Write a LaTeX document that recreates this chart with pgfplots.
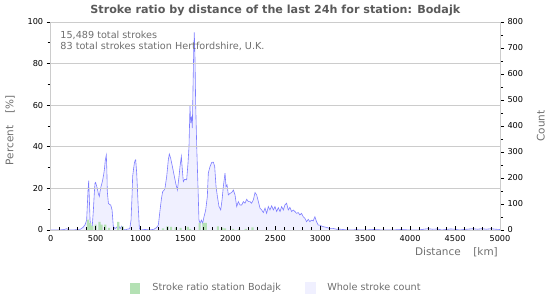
\documentclass[border=0pt]{standalone}
\usepackage{fontspec}
\setmainfont{DejaVu Sans}
\usepackage{pgfplots}
\usepackage{pgfplotstable}
\pgfplotsset{compat=1.18}
\definecolor{gridgray}{RGB}{204,204,204}
\definecolor{txtgray}{RGB}{110,110,110}
\definecolor{titlegray}{RGB}{90,90,90}
\definecolor{barGreen}{RGB}{180,225,180}
\definecolor{areaBlue}{RGB}{240,240,255}
\definecolor{lineBlue}{RGB}{125,125,255}

\pgfplotstableread{
km cnt
0 0
50 0
100 0
150 2
180 5
200 0
250 0
300 2
330 3
360 10
382 20
400 38
415 150
423 190
430 120
438 38
450 5
460 2
475 77
485 140
493 180
500 183
510 170
519 160
530 140
541 129
550 150
560 167
570 180
579 193
590 215
597 231
608 270
619 288
625 230
630 148
642 103
655 98
668 96
683 77
697 13
716 6
734 10
753 19
772 5
790 15
809 3
827 0
850 3
880 5
894 38
905 130
912 206
922 235
931 257
940 268
946 270
957 219
965 160
972 103
987 6
1000 0
1050 2
1100 0
1150 3
1180 10
1198 19
1217 77
1232 120
1246 148
1260 152
1272 161
1291 206
1309 270
1320 292
1335 276
1358 238
1376 206
1395 174
1410 154
1428 206
1439 244
1454 283
1465 231
1476 186
1491 195
1513 193
1528 257
1539 321
1550 476
1558 411
1569 437
1576 392
1584 553
1591 681
1598 760
1606 656
1613 489
1625 321
1639 167
1650 38
1662 26
1677 38
1691 26
1706 51
1725 77
1743 129
1754 219
1773 244
1792 260
1810 261
1825 244
1840 167
1855 129
1873 90
1892 77
1907 116
1921 167
1940 219
1951 167
1962 174
1977 135
1996 141
2014 144
2033 154
2051 135
2070 90
2088 109
2107 96
2125 96
2144 109
2162 103
2181 118
2200 109
2218 109
2236 103
2255 116
2274 144
2292 135
2311 109
2329 84
2348 77
2366 67
2385 84
2403 64
2422 90
2440 77
2459 93
2478 77
2496 90
2515 71
2533 86
2552 71
2570 90
2589 77
2606 96
2625 103
2644 77
2662 87
2681 71
2699 77
2718 71
2736 64
2755 67
2773 58
2792 64
2810 51
2829 45
2847 32
2866 41
2884 32
2903 38
2921 35
2940 51
2958 32
2977 19
2995 19
3014 15
3032 13
3069 10
3106 6
3143 6
3180 3
3220 3
3250 2
3300 0
3400 1
3500 0
3600 2
3700 0
3800 0
3900 2
4000 0
4100 0
4150 3
4200 5
4250 3
4300 4
4350 0
4400 2
4450 4
4500 3
4550 0
4600 2
4700 5
4750 3
4800 5
4850 3
4900 5
4950 3
5000 2
}\countdata

\pgfplotstableread{
km pct
415 5.0
440 3.4
462 2.0
500 2.6
543 3.9
567 2.6
607 2.6
650 1.0
752 3.9
799 1.8
1250 0.8
1300 1.8
1340 1.5
1392 1.3
1446 1.0
1525 1.5
1550 0.6
1657 3.4
1700 3.4
1725 3.4
1860 1.8
1910 1.2
1940 0.8
2030 0.6
2095 0.5
2170 0.6
2245 1.3
}\pctdata

\begin{document}
\begin{tikzpicture}
\path[use as bounding box] (-50.7bp,-70bp) rectangle (499.3bp,230bp);
\pgfplotsset{every axis/.append style={
  scale only axis, width=449.3bp, height=208bp,
  at={(0,0)}, anchor=south west,
  xmin=0, xmax=5000,
  tick label style={font=\fontsize{8.2}{9}\selectfont, black},
  /pgf/number format/assume math mode=true,
  /pgf/number format/1000 sep={},
  tick style={black, line width=0.8bp},
  major tick length=4bp, minor tick length=3bp,
}}
% count axis (right)
\begin{axis}[
  ymin=0, ymax=800,
  axis y line*=right, hide x axis,
  ytick={0,100,...,800}, minor y tick num=1,
  tick align=outside,
  y axis line style={draw=none},
  ylabel={Count},
  ylabel style={at={(axis description cs:1.091,0.5)}, anchor=center, rotate=0, font=\fontsize{10.5}{12}\selectfont, text=txtgray},
]
\addplot[fill=areaBlue, draw=none] table[x=km, y=cnt] {\countdata} \closedcycle;
\addplot[lineBlue, line width=0.6bp] table[x=km, y=cnt] {\countdata};
\end{axis}
% percent axis (left)
\begin{axis}[
  ymin=0, ymax=100,
  axis y line*=left, hide x axis,
  ytick={0,20,...,100}, minor y tick num=1,
  tick align=outside,
  ymajorgrids, grid style={gridgray, line width=0.8bp},
  y axis line style={draw=none},
  ylabel={Percent\hspace{1.2em}[\%]},
  ylabel style={at={(axis description cs:-0.0906,0.48)}, anchor=center, font=\fontsize{10.5}{12}\selectfont, text=txtgray},
  ybar, bar width=24,
  legend columns=2,
  legend style={at={(0.5026,-0.279)}, anchor=center, draw=none, fill=none,
    font=\fontsize{9.7}{11}\selectfont, text=txtgray,
    /tikz/every odd column/.append style={column sep=10bp},
    /tikz/every even column/.append style={column sep=22bp}},
]
\addplot[fill=barGreen, draw=none, bar shift=0pt,
  legend image code/.code={\fill[barGreen] (0bp,-5.5bp) rectangle (10bp,5.5bp);}]
  table[x=km, y=pct] {\pctdata};
\addlegendentry{Stroke ratio station Bodajk}
\addlegendimage{legend image code/.code={\fill[areaBlue] (0bp,-5.5bp) rectangle (10bp,5.5bp);}}
\addlegendentry{Whole stroke count}
\end{axis}
% frame and distance ticks
\begin{axis}[
  clip=false,
  ymin=0, ymax=1, ytick=\empty,
  xtick={0,500,...,5000}, minor x tick num=4,
  tick align=inside, xtick pos=left,
  xticklabel style={yshift=-1.5bp},
  axis line style={gridgray, line width=0.8bp},
  xlabel={Distance\hspace{1.2em}[km]},
  xlabel style={at={(axis description cs:0.903,-0.106)}, anchor=center, font=\fontsize{10.5}{12}\selectfont, text=txtgray},
]
\node[anchor=north west, align=left, font=\fontsize{9.7}{11}\selectfont, text=txtgray, inner sep=0pt]
  at (rel axis cs:0,1) [xshift=9.5bp, yshift=-9bp]
  {15,489 total strokes\\83 total strokes station Hertfordshire, U.K.};
\node[anchor=center, font=\fontsize{11.2}{13}\selectfont\bfseries, text=titlegray, inner sep=0pt]
  at (rel axis cs:0.5,1) [yshift=12bp]
  {Stroke ratio by distance of the last 24h for station: Bodajk};
\end{axis}
\end{tikzpicture}
\end{document}
